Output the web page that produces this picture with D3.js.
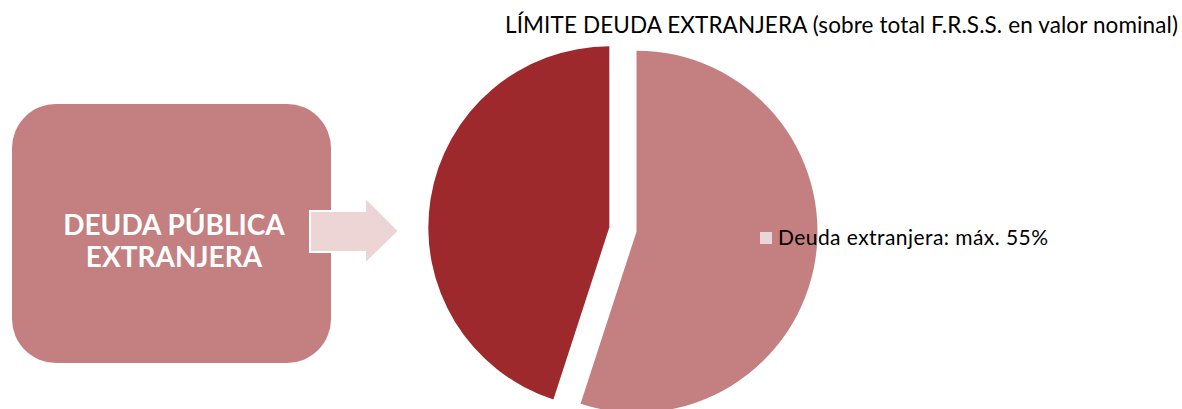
<!DOCTYPE html>
<html>
<head>
<meta charset="utf-8">
<script src="https://cdn.jsdelivr.net/npm/d3@7"></script>
<style>
  body { margin: 0; background: #fff; }
  svg { display: block; }
</style>
</head>
<body>
<script>
// slice values, in drawing order (clockwise from 12 o'clock)
var sliceNames = ["Deuda extranjera: máx. 55%", "Resto"];
var sliceValues = [55, 45];
var sliceColors = ["#C47F80", "#9E292C"];
var explode = [24.5, 3];

var legendNames = ["Deuda extranjera: máx. 55%"];
var legendColors = ["#EAD6D6"];

var titleText = "LÍMITE DEUDA EXTRANJERA (sobre total F.R.S.S. en valor nominal)";
var boxLines = ["DEUDA PÚBLICA", "EXTRANJERA"];

var w = 1182, h = 409;
var svg = d3.select("body").append("svg")
    .attr("width", w)
    .attr("height", h);

// left rounded box
svg.append("rect")
    .attr("x", 12).attr("y", 104)
    .attr("width", 319).attr("height", 259)
    .attr("rx", 44).attr("ry", 44)
    .attr("fill", "#C47F80");

svg.append("text")
    .attr("x", 174).attr("y", 235)
    .attr("text-anchor", "middle")
    .attr("font-family", "Lato, 'Open Sans', sans-serif")
    .attr("font-weight", "bold")
    .attr("font-size", 28)
    .attr("fill", "#fff")
    .selectAll("tspan")
    .data(boxLines)
    .enter().append("tspan")
    .attr("x", 174)
    .attr("dy", function (d, i) { return i === 0 ? 0 : 32; })
    .text(function (d) { return d; });

// arrow
var arrowPts = [[310, 211], [365, 211], [365, 197], [399, 231], [365, 264], [365, 252], [310, 252]];
svg.append("path")
    .attr("d", d3.line()(arrowPts) + "Z")
    .attr("fill", "#EDD5D5")
    .attr("stroke", "#fff")
    .attr("stroke-width", 2);

// pie
var cx = 612.3, cy = 227.8, r = 181;
var pie = d3.pie().sort(null).value(function (d) { return d; });
var arc = d3.arc().innerRadius(0).outerRadius(r);

var arcs = svg.selectAll("g.arc")
    .data(pie(sliceValues))
    .enter()
    .append("g")
    .attr("class", "arc")
    .attr("transform", function (d, i) {
        var mid = (d.startAngle + d.endAngle) / 2;
        var dx = Math.sin(mid) * explode[i];
        var dy = -Math.cos(mid) * explode[i];
        return "translate(" + (cx + dx) + "," + (cy + dy) + ")";
    });
arcs.append("path")
    .attr("fill", function (d, i) { return sliceColors[i]; })
    .attr("d", arc);

// title
svg.append("text")
    .attr("x", 1178).attr("y", 33)
    .attr("text-anchor", "end")
    .attr("font-family", "Lato, 'Open Sans', sans-serif")
    .attr("font-size", 22.5)
    .attr("textLength", 673)
    .attr("lengthAdjust", "spacing")
    .attr("fill", "#000")
    .text(titleText);

// legend
var lg = svg.selectAll("g.legend")
    .data(legendNames)
    .enter().append("g")
    .attr("class", "legend")
    .attr("transform", "translate(760,232)");
lg.append("rect")
    .attr("width", 12).attr("height", 12)
    .attr("fill", function (d, i) { return legendColors[i]; });
lg.append("text")
    .attr("x", 18).attr("y", 13)
    .attr("font-family", "Lato, 'Open Sans', sans-serif")
    .attr("font-size", 21)
    .attr("textLength", 270)
    .attr("lengthAdjust", "spacing")
    .attr("fill", "#000")
    .text(function (d) { return d; });
</script>
</body>
</html>
